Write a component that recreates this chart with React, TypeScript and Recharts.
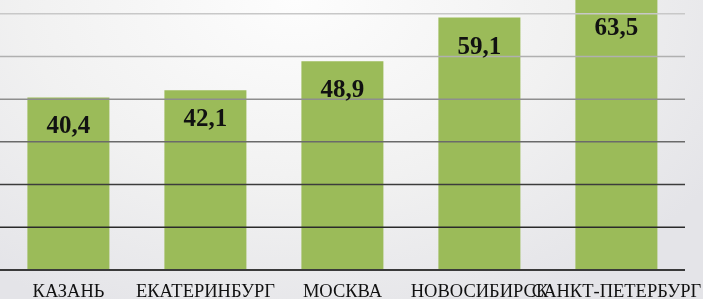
import { BarChart, Bar, XAxis, YAxis, ReferenceLine, LabelList } from 'recharts'

// Средние значения по городам
const cities = ['КАЗАНЬ', 'ЕКАТЕРИНБУРГ', 'МОСКВА', 'НОВОСИБИРСК', 'САНКТ-ПЕТЕРБУРГ']
const values = [40.4, 42.1, 48.9, 59.1, 63.5]
const gridTicks = [10, 20, 30, 40, 50, 60]

// линии сетки светлеют снизу вверх
const gridColors = ['#2a2a2a', '#3c3c3c', '#6a6a6a', '#8e8e8e', '#b0b0b0', '#c8c8c8']

const data = cities.map((name, i) => ({ name, value: values[i] }))

const SHIFT = 29
const W = 703
const H = 299 + SHIFT

function CityTick(props: any) {
  const { x, y, payload } = props
  return (
    <text
      x={x}
      y={y}
      dy={27}
      textAnchor="middle"
      fontFamily="'Liberation Serif', serif"
      fontSize={18.5}
      fill="#111"
    >
      {payload.value}
    </text>
  )
}

function ValueLabel(props: any) {
  const { x, y, width, value } = props
  return (
    <text
      x={x + width / 2}
      y={y + 36}
      textAnchor="middle"
      fontFamily="'Liberation Serif', serif"
      fontWeight="bold"
      fontSize={25}
      fill="#111"
    >
      {Number(value).toFixed(1).replace('.', ',')}
    </text>
  )
}

export default function App() {
  return (
    <div
      style={{
        position: 'fixed',
        top: 0,
        left: 0,
        width: W,
        height: 299,
        overflow: 'hidden',
        background:
          'radial-gradient(ellipse 70% 115% at 42% 0%, #fdfdfd 0%, #f1f1f1 55%, #e4e4e8 100%)',
      }}
    >
      <div style={{ position: 'absolute', top: -SHIFT, left: 0 }}>
        <BarChart
          width={W}
          height={H}
          data={data}
          margin={{ top: 0, right: 18, left: 0, bottom: 0 }}
          barCategoryGap="20%"
        >
          <YAxis hide domain={[0, 70]} />
          {gridTicks.map((t, i) => (
            <ReferenceLine key={t} y={t} stroke={gridColors[i]} strokeWidth={1.5} />
          ))}
          <XAxis
            dataKey="name"
            interval={0}
            height={SHIFT}
            tickSize={0}
            tickMargin={0}
            tickLine={false}
            axisLine={{ stroke: '#3a3a3a', strokeWidth: 2 }}
            tick={<CityTick />}
          />
          <Bar dataKey="value" fill="#9bbb59" isAnimationActive={false}>
            <LabelList dataKey="value" content={<ValueLabel />} />
          </Bar>
        </BarChart>
      </div>
    </div>
  )
}
